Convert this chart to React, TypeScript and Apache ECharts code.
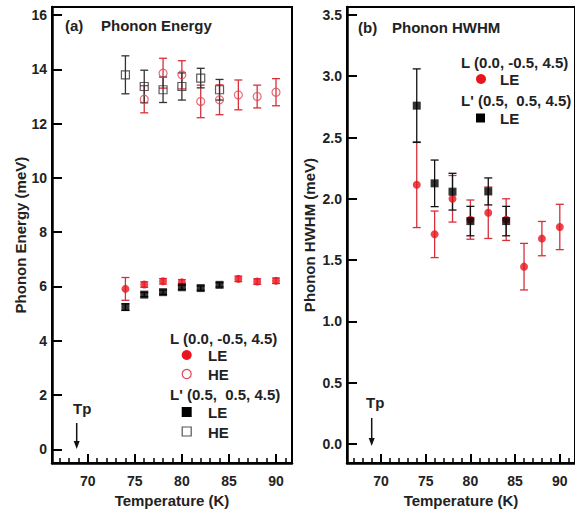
import React, { useEffect, useRef } from "react";
import * as echarts from "echarts";

// ---- Data ----
const temps = [74, 76, 78, 80, 82, 84, 86, 88, 90];

// Panel (a): phonon energy (meV)
const aLE_L = [5.91, 6.07, 6.19, 6.15, null, null, 6.28, 6.18, 6.21];
const aLE_L_err = [0.42, 0.1, 0.1, 0.1, null, null, 0.1, 0.1, 0.1];
const aHE_L = [null, 12.9, 13.86, 13.8, 12.82, 12.88, 13.06, 13.0, 13.16];
const aHE_L_err = [null, 0.5, 0.55, 0.52, 0.6, 0.55, 0.55, 0.42, 0.5];
const aLE_Lp = [5.24, 5.7, 5.79, 5.97, 5.94, 6.06, null, null, null];
const aLE_Lp_err = [0.12, 0.08, 0.08, 0.08, 0.08, 0.08, null, null, null];
const aHE_Lp = [13.8, 13.37, 13.25, 13.37, 13.68, 13.25, null, null, null];
const aHE_Lp_err = [0.7, 0.6, 0.47, 0.5, 0.36, 0.38, null, null, null];

// Panel (b): phonon HWHM (meV)
const bLE_L = [2.115, 1.71, 2.0, 1.83, 1.886, 1.83, 1.446, 1.675, 1.77];
const bLE_L_err = [0.35, 0.19, 0.19, 0.16, 0.21, 0.17, 0.19, 0.14, 0.185];
const bLE_Lp = [2.76, 2.126, 2.058, 1.818, 2.06, 1.818, null, null, null];
const bLE_Lp_err = [0.3, 0.19, 0.15, 0.12, 0.11, 0.12, null, null, null];

const xMajor = [70, 75, 80, 85, 90];
const xMinor = [67, 68, 69, 70, 71, 72, 73, 74, 75, 76, 77, 78, 79, 80, 81, 82, 83, 84, 85, 86, 87, 88, 89, 90, 91];
const aYTicks = [0, 2, 4, 6, 8, 10, 12, 14, 16];
const bYTicks = [0, 0.5, 1.0, 1.5, 2.0, 2.5, 3.0, 3.5];

const FONT = "'Liberation Sans', Arial, Helvetica, sans-serif";
const RED = "#e8141e";
const RED_BAR = "#d8303a";
const PINK = "#e04555";

function pts(vals: (number | null)[]) {
  const out: number[][] = [];
  vals.forEach((v, i) => {
    if (v !== null) out.push([temps[i], v]);
  });
  return out;
}
function errs(vals: (number | null)[], e: (number | null)[]) {
  const out: number[][] = [];
  vals.forEach((v, i) => {
    if (v !== null && e[i] !== null) out.push([temps[i], v - (e[i] as number), v + (e[i] as number)]);
  });
  return out;
}

function errSeries(data: number[][], color: string, xi: number, yi: number, cap: number, lw: number) {
  return {
    type: "custom",
    xAxisIndex: xi,
    yAxisIndex: yi,
    data,
    encode: { x: 0, y: [1, 2] },
    z: 2,
    renderItem: (params: any, api: any) => {
      const x = api.value(0);
      const p1 = api.coord([x, api.value(1)]);
      const p2 = api.coord([x, api.value(2)]);
      const st = { stroke: color, lineWidth: lw };
      return {
        type: "group",
        children: [
          { type: "line", shape: { x1: p1[0], y1: p1[1], x2: p2[0], y2: p2[1] }, style: st },
          { type: "line", shape: { x1: p1[0] - cap, y1: p1[1], x2: p1[0] + cap, y2: p1[1] }, style: st },
          { type: "line", shape: { x1: p2[0] - cap, y1: p2[1], x2: p2[0] + cap, y2: p2[1] }, style: st },
        ],
      };
    },
  };
}

function scatter(data: number[][], symbol: string, size: number, itemStyle: any, xi: number, yi: number) {
  return {
    type: "scatter",
    xAxisIndex: xi,
    yAxisIndex: yi,
    data,
    symbol,
    symbolSize: size,
    itemStyle,
    z: 3,
  };
}

const labelStyle = { color: "#222", fontFamily: FONT, fontWeight: "bold" as const, fontSize: 14 };
const nameStyle = { color: "#222", fontFamily: FONT, fontWeight: "bold" as const, fontSize: 15 };

function xAxes(grid: number) {
  return [
    {
      type: "value",
      gridIndex: grid,
      position: "bottom",
      min: 66.2,
      max: 91.7,
      axisLine: { show: true, onZero: false, lineStyle: { color: "#000", width: 2.5 } },
      axisTick: { show: true, inside: true, length: 9, customValues: xMajor, lineStyle: { color: "#000", width: 2 } },
      axisLabel: { show: true, customValues: xMajor, margin: 11, ...labelStyle },
      splitLine: { show: false },
      name: "Temperature (K)",
      nameLocation: "middle",
      nameGap: 25,
      nameTextStyle: nameStyle,
    },
    {
      type: "value",
      gridIndex: grid,
      position: "bottom",
      min: 66.2,
      max: 91.7,
      axisLine: { show: false, onZero: false },
      axisTick: { show: true, inside: true, length: 5, customValues: xMinor, lineStyle: { color: "#000", width: 1.5 } },
      axisLabel: { show: false },
      splitLine: { show: false },
    },
  ];
}

function txt(text: string, x: number, y: number, size = 15, align = "left") {
  return {
    type: "text",
    x,
    y,
    style: { text, fill: "#222", font: `bold ${size}px ${FONT}`, textAlign: align, textVerticalAlign: "middle" },
  };
}

function arrow(x: number, y1: number, y2: number) {
  return [
    { type: "line", shape: { x1: x, y1, x2: x, y2: y2 - 6 }, style: { stroke: "#111", lineWidth: 1.5 } },
    {
      type: "polygon",
      shape: { points: [[x - 3, y2 - 8], [x + 3, y2 - 8], [x, y2]] },
      style: { fill: "#111" },
    },
  ];
}

export default function App() {
  const ref = useRef<HTMLDivElement>(null);
  useEffect(() => {
    if (!ref.current) return;
    const chart = echarts.init(ref.current, undefined, { renderer: "svg" });
    const option: any = {
      animation: false,
      backgroundColor: "#fff",
      grid: [
        { left: 52, top: 7, width: 240, height: 458, show: true, borderColor: "#000", borderWidth: 2, backgroundColor: "transparent" },
        { left: 347, top: 7, width: 237, height: 459, show: true, borderColor: "#000", borderWidth: 2, backgroundColor: "transparent" },
      ],
      xAxis: [...xAxes(0), ...xAxes(1)],
      yAxis: [
        {
          type: "value",
          gridIndex: 0,
          min: -0.51,
          max: 16.3,
          axisLine: { show: true, onZero: false, lineStyle: { color: "#000", width: 2.5 } },
          axisTick: { show: true, inside: true, length: 10, customValues: aYTicks, lineStyle: { color: "#000", width: 2 } },
          axisLabel: { show: true, customValues: aYTicks, margin: 5, ...labelStyle },
          splitLine: { show: false },
          name: "Phonon Energy (meV)",
          nameLocation: "middle",
          nameGap: 23,
          nameTextStyle: nameStyle,
        },
        {
          type: "value",
          gridIndex: 1,
          min: -0.157,
          max: 3.565,
          axisLine: { show: true, onZero: false, lineStyle: { color: "#000", width: 2.5 } },
          axisTick: { show: true, inside: true, length: 10, customValues: bYTicks, lineStyle: { color: "#000", width: 2 } },
          axisLabel: { show: true, customValues: bYTicks, margin: 5, formatter: (v: number) => v.toFixed(1), ...labelStyle },
          splitLine: { show: false },
          name: "Phonon HWHM (meV)",
          nameLocation: "middle",
          nameGap: 30,
          nameTextStyle: nameStyle,
        },
      ],
      series: [
        // Panel (a) HE
        errSeries(errs(aHE_L, aHE_L_err), RED_BAR, 0, 0, 4, 1.3),
        errSeries(errs(aHE_Lp, aHE_Lp_err), "#333", 0, 0, 4, 1.3),
        scatter(pts(aHE_L), "circle", 8, { color: "transparent", borderColor: PINK, borderWidth: 1.2 }, 0, 0),
        scatter(pts(aHE_Lp), "rect", 8, { color: "transparent", borderColor: "#333", borderWidth: 1.2 }, 0, 0),
        // Panel (a) LE
        errSeries(errs(aLE_L, aLE_L_err), RED_BAR, 0, 0, 4, 1.3),
        errSeries(errs(aLE_Lp, aLE_Lp_err), "#111", 0, 0, 4, 1.3),
        scatter(pts(aLE_L), "circle", 8, { color: RED }, 0, 0),
        scatter(pts(aLE_Lp), "rect", 8, { color: "#000" }, 0, 0),
        // Panel (b)
        errSeries(errs(bLE_L, bLE_L_err), RED_BAR, 2, 1, 4, 1.3),
        scatter(pts(bLE_L), "circle", 8, { color: RED }, 2, 1),
        errSeries(errs(bLE_Lp, bLE_Lp_err), "#111", 2, 1, 4, 1.3),
        scatter(pts(bLE_Lp), "rect", 8, { color: "#000" }, 2, 1),
      ],
      graphic: [
        txt("(a)", 65, 25),
        txt("Phonon Energy", 101, 25),
        txt("(b)", 358, 27),
        txt("Phonon HWHM", 392, 27),
        // legend (a)
        txt("L (0.0, -0.5, 4.5)", 170, 338),
        { type: "circle", shape: { cx: 186.7, cy: 355, r: 5 }, style: { fill: RED } },
        txt("LE", 208, 355),
        { type: "circle", shape: { cx: 186.7, cy: 374, r: 4.5 }, style: { fill: "none", stroke: PINK, lineWidth: 1.2 } },
        txt("HE", 208, 374),
        txt("L' (0.5,  0.5, 4.5)", 170, 394),
        { type: "rect", shape: { x: 181.7, y: 407, width: 10, height: 10 }, style: { fill: "#000" } },
        txt("LE", 208, 412),
        { type: "rect", shape: { x: 182.2, y: 427, width: 9, height: 9 }, style: { fill: "none", stroke: "#555", lineWidth: 1.2 } },
        txt("HE", 208, 432),
        // legend (b)
        txt("L (0.0, -0.5, 4.5)", 461, 62),
        { type: "circle", shape: { cx: 481, cy: 79, r: 5 }, style: { fill: RED } },
        txt("LE", 500, 79),
        txt("L' (0.5,  0.5, 4.5)", 461, 100),
        { type: "rect", shape: { x: 476, y: 113.5, width: 9, height: 9 }, style: { fill: "#000" } },
        txt("LE", 500, 118),
        // Tp annotations
        txt("Tp", 73, 408),
        ...arrow(76.7, 423, 449),
        txt("Tp", 366, 402),
        ...arrow(371.7, 418, 446),
      ],
    };
    chart.setOption(option);
    return () => chart.dispose();
  }, []);
  return <div ref={ref} style={{ position: "absolute", left: 0, top: 0, width: 575, height: 513 }} />;
}
